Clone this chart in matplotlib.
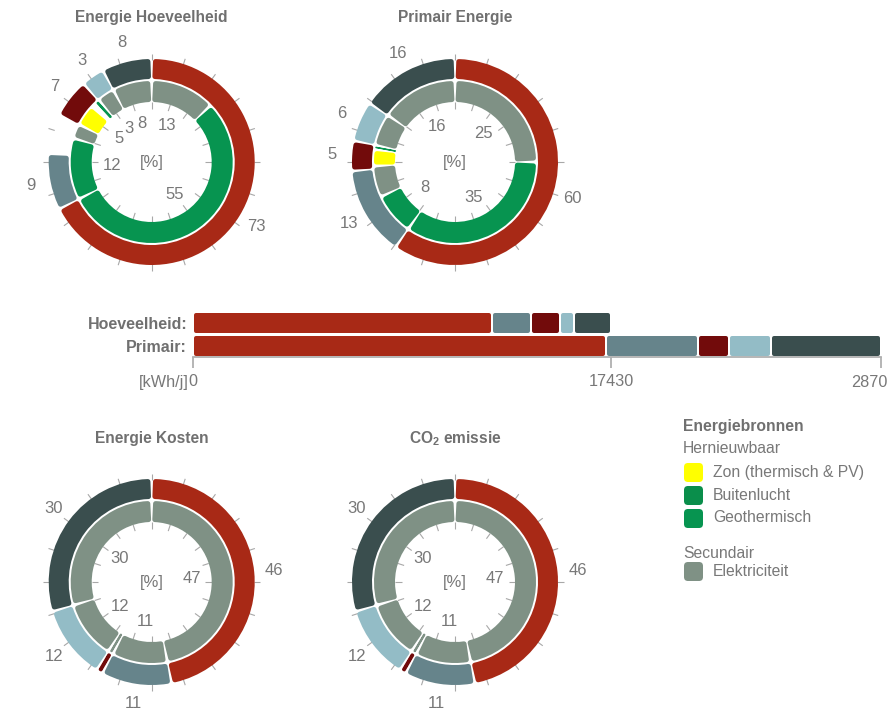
import numpy as np
import matplotlib.pyplot as plt
from matplotlib.patches import FancyBboxPatch

plt.rcParams['font.family'] = ['Liberation Sans', 'DejaVu Sans']
plt.rcParams['mathtext.fontset'] = 'custom'
plt.rcParams['mathtext.rm'] = 'Liberation Sans'
plt.rcParams['mathtext.bf'] = 'Liberation Sans:bold'

W, H = 888, 711

RED = '#a82916'
MAROON = '#720b0b'
SLATE = '#66848b'
LIGHTBLUE = '#93bcc6'
DARKSLATE = '#3a4e4e'
GREY = '#7f9185'
AIR = '#0a8e4b'
GEO = '#079450'
YELLOW = '#ffff00'
TXT = '#787878'
TXT_B = '#707070'
TICK = '#a8a8a8'

# donut rings: share of the circle (%) as drawn, colour, label
hoev_outer = [67.5, 8.8, 6.2, 6.1, 3.6, 7.8]
hoev_outer_colors = [RED, SLATE, None, MAROON, LIGHTBLUE, DARKSLATE]
hoev_outer_labels = ['73', '9', '', '7', '3', '8']
hoev_inner = [12.8, 54.7, 12.2, 2.9, 4.3, 0.8, 1.05, 3.45, 7.8]
hoev_inner_colors = [GREY, GEO, GEO, GREY, YELLOW, None, GEO, GREY, GREY]
hoev_inner_labels = ['13', '55', '12', '', '5', '', '', '3', '8']

prim_outer = [59.7, 13.9, 4.7, 6.3, 15.4]
prim_outer_colors = [RED, SLATE, MAROON, LIGHTBLUE, DARKSLATE]
prim_outer_labels = ['60', '13', '5', '6', '16']
prim_inner = [25.0, 34.7, 8.3, 6.2, 3.3, 0.8, 6.4, 15.3]
prim_inner_colors = [GREY, GEO, GEO, GREY, YELLOW, GEO, GREY, GREY]
prim_inner_labels = ['25', '35', '8', '', '', '', '', '16']

cost_outer = [46.9, 11.0, 1.0, 11.5, 29.6]
cost_outer_colors = [RED, SLATE, MAROON, LIGHTBLUE, DARKSLATE]
cost_outer_labels = ['46', '11', '', '12', '30']
cost_inner = [46.9, 11.0, 1.0, 11.5, 29.6]
cost_inner_colors = [GREY, GREY, GREY, GREY, GREY]
cost_inner_labels = ['47', '11', '', '12', '30']

co2_outer = [46.9, 11.0, 1.0, 11.5, 29.6]
co2_outer_colors = [RED, SLATE, MAROON, LIGHTBLUE, DARKSLATE]
co2_outer_labels = ['46', '11', '', '12', '30']
co2_inner = [46.9, 11.0, 1.0, 11.5, 29.6]
co2_inner_colors = [GREY, GREY, GREY, GREY, GREY]
co2_inner_labels = ['47', '11', '', '12', '30']

# stacked bars [kWh/j]
bar_rows = ['Hoeveelheid:', 'Primair:']
hoev_kwh = [12480, 1617, 1208, 583, 1542]
prim_kwh = [17220, 3830, 1310, 1750, 4590]
bar_colors = [RED, SLATE, MAROON, LIGHTBLUE, DARKSLATE]
axis_ticks = [0, 17430, 28700]
axis_labels = ['0', '17430', '']

legend_renew = ['Zon (thermisch & PV)', 'Buitenlucht', 'Geothermisch']
legend_renew_colors = [YELLOW, AIR, GEO]
legend_sec = ['Elektriciteit']
legend_sec_colors = [GREY]

GAP = 2.0   # white gap between segments (px)
PAD = 2.5   # corner rounding (px)
PT = 0.72   # points per pixel at 100 dpi
NUM_FS = 12

fig = plt.figure(figsize=(W / 100, H / 100), dpi=100)

lax = fig.add_axes([0, 0, 1, 1])
lax.set_xlim(0, W)
lax.set_ylim(H, 0)
lax.axis('off')


def donut(cx, cy, title, title_y, rings):
    R = 112
    ax = fig.add_axes([(cx - R) / W, 1 - (cy + R) / H, 2 * R / W, 2 * R / H],
                      projection='polar')
    ax.set_theta_zero_location('N')
    ax.set_theta_direction(-1)
    ax.set_ylim(0, R)
    ax.axis('off')
    th = np.deg2rad(np.arange(0, 360, 18))
    ax.vlines(th, 102, 108.5, color=TICK, lw=0.8, zorder=1)
    ax.vlines(th, 53.5, 60, color=TICK, lw=0.8, zorder=1)
    for (shares, colors, labels), (r0, r1), lab_r in zip(rings, [(60, 81), (83, 103)], [40, 123]):
        edges = np.concatenate([[0], np.cumsum(shares)]) / 100 * 2 * np.pi
        rm = (r0 + r1) / 2
        for a0, a1, c, lab in zip(edges[:-1], edges[1:], colors, labels):
            mid = (a0 + a1) / 2
            if c is not None:
                L = (a1 - a0) * rm - GAP
                pad = min(PAD, L * 0.4)
                ax.bar(mid, r1 - r0 - 2 * pad, width=(L - 2 * pad) / rm,
                       bottom=r0 + pad, color=c, edgecolor=c,
                       linewidth=2 * pad * PT, joinstyle='round', zorder=2)
            if lab:
                ax.text(mid, lab_r, lab, ha='center', va='center',
                        fontsize=NUM_FS, color=TXT)
    ax.text(0, 0, '[%]', ha='center', va='center', fontsize=NUM_FS, color=TXT)
    lax.text(cx, title_y, title, ha='center', va='baseline', fontsize=11.2,
             fontweight='bold', color=TXT_B)


donut(151.7, 162, 'Energie Hoeveelheid', 21.7,
      [(hoev_inner, hoev_inner_colors, hoev_inner_labels),
       (hoev_outer, hoev_outer_colors, hoev_outer_labels)])
donut(455, 162, 'Primair Energie', 21.7,
      [(prim_inner, prim_inner_colors, prim_inner_labels),
       (prim_outer, prim_outer_colors, prim_outer_labels)])
donut(151.7, 582, 'Energie Kosten', 443.5,
      [(cost_inner, cost_inner_colors, cost_inner_labels),
       (cost_outer, cost_outer_colors, cost_outer_labels)])
donut(455, 582, r'CO$_\mathbf{2}$ emissie', 443.5,
      [(co2_inner, co2_inner_colors, co2_inner_labels),
       (co2_outer, co2_outer_colors, co2_outer_labels)])

# stacked bar chart
x0_px, top_px, base_px = 192.7, 312.0, 357.3
px_per = (611.0 - x0_px) / 17430
xmax = axis_ticks[-1]
bax = fig.add_axes([x0_px / W, 1 - base_px / H, xmax * px_per / W, (base_px - top_px) / H])
row_px = 22.7
bax.set_xlim(0, xmax)
bax.set_ylim(1 + 11.6 / row_px, -11.0 / row_px)
kpp = 1 / px_per
bar_h = 20 / row_px
pad = 2.0
for row, vals in enumerate([hoev_kwh, prim_kwh]):
    starts = np.concatenate([[0], np.cumsum(vals)[:-1]])
    for s, v, c in zip(starts, vals, bar_colors):
        bax.barh(row, v - (GAP + 2 * pad) * kpp, left=s + (GAP / 2 + pad) * kpp,
                 height=bar_h - 2 * pad / row_px, color=c, edgecolor=c,
                 linewidth=2 * pad * PT, joinstyle='round')
for side in ['top', 'right', 'left']:
    bax.spines[side].set_visible(False)
bax.spines['bottom'].set_color('#b0b0b0')
bax.spines['bottom'].set_linewidth(1.3)
bax.patch.set_alpha(0)
bax.set_xticks(axis_ticks, axis_labels)
bax.set_yticks([0, 1], bar_rows)
bax.tick_params(axis='x', length=7.7, width=1.3, color='#b0b0b0', labelcolor=TXT,
                labelsize=11.7, pad=4)
bax.tick_params(axis='y', length=0, pad=4, labelsize=11.5)
for t in bax.get_yticklabels():
    t.set_fontweight('bold')
    t.set_color(TXT_B)
bax.annotate('[kWh/j]', xy=(0, 0), xycoords=('data', 'axes fraction'),
             xytext=(-3.2, -12.5), textcoords='offset points', ha='right', va='top',
             fontsize=11.7, color=TXT)
bax.annotate('2870', xy=(xmax, 0), xycoords=('data', 'axes fraction'),
             xytext=(4, -12.5), textcoords='offset points', ha='right', va='top',
             fontsize=11.7, color=TXT)

# legend
lax.text(683, 430.7, 'Energiebronnen', fontsize=11.3, fontweight='bold', color=TXT_B,
         va='baseline')
lax.text(683, 452.7, 'Hernieuwbaar', fontsize=11.3, color=TXT, va='baseline')
for i, (name, c) in enumerate(zip(legend_renew, legend_renew_colors)):
    y = 463 + i * 23
    lax.add_patch(FancyBboxPatch((684, y), 19, 19, boxstyle='round,pad=0,rounding_size=4',
                                 facecolor=c, edgecolor='none'))
    lax.text(713, y + 13.5, name, fontsize=11.3, color=TXT, va='baseline')
lax.text(683, 558, 'Secundair', fontsize=11.3, color=TXT, va='baseline')
for i, (name, c) in enumerate(zip(legend_sec, legend_sec_colors)):
    y = 562 + i * 23
    lax.add_patch(FancyBboxPatch((684, y), 19, 19, boxstyle='round,pad=0,rounding_size=4',
                                 facecolor=c, edgecolor='none'))
    lax.text(713, y + 14, name, fontsize=11.3, color=TXT, va='baseline')

fig.savefig('out.png', dpi=100)
